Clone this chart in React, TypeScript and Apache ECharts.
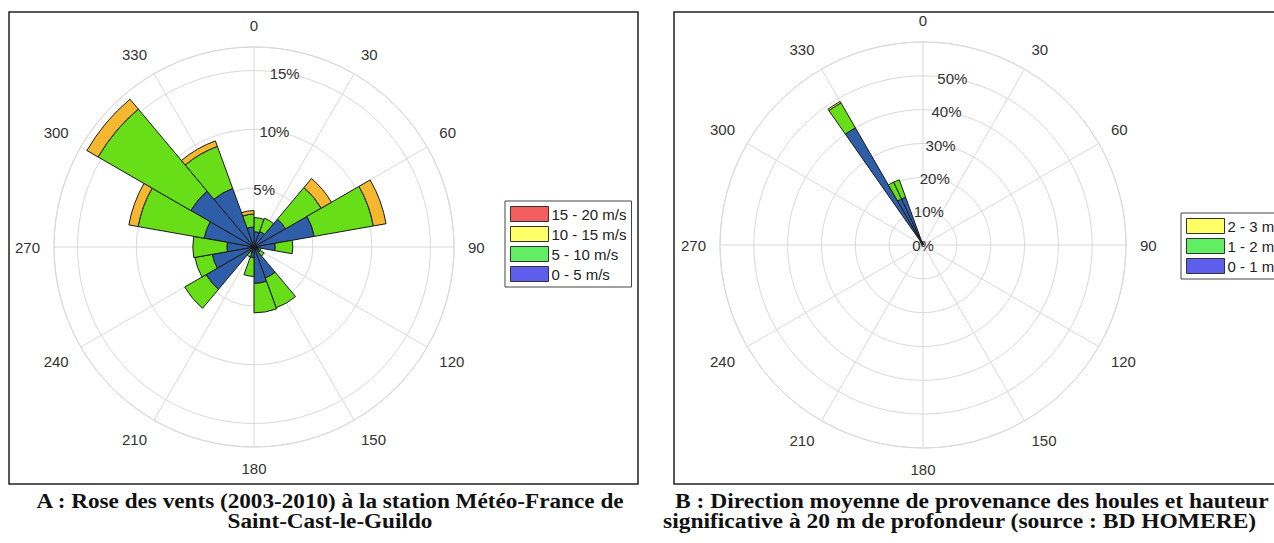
import React, { useEffect, useRef } from 'react';
import * as echarts from 'echarts';

// ---- Panel A : wind rose (20° sectors, % of time) ----
const windDirections = ['10', '30', '50', '70', '90', '110', '130', '150', '170', '190', '210', '230', '250', '270', '290', '310', '330', '350'];
const wind0to5 = [1.3, 1.4, 3.1, 5.2, 1.8, 0.4, 0.6, 2.8, 3.1, 0.9, 0.5, 4.7, 3.6, 2.3, 4.3, 6.2, 5.3, 1.7];
const wind5to10 = [1.2, 1.2, 3.5, 5.1, 1.5, 0.2, 0.4, 2.7, 2.5, 1.6, 0.4, 2.1, 1.5, 2.9, 5.7, 9.1, 3.8, 1.1];
const wind10to15 = [0, 0, 1.0, 1.1, 0, 0, 0, 0, 0, 0, 0, 0, 0, 0, 0.8, 1.1, 0.5, 0.3];
const wind15to20 = [0, 0, 0, 0, 0, 0, 0, 0, 0, 0, 0, 0, 0, 0, 0, 0, 0, 0];
const windNames = ['0 - 5 m/s', '5 - 10 m/s', '10 - 15 m/s', '15 - 20 m/s'];
const windRingMax = 17;
const windRingStep = 5;

// ---- Panel B : wave direction (5° sectors, % of time); only non-empty sectors listed ----
const waveSectorStart = [300, 305, 310, 315, 320, 325, 330, 335, 340, 345, 350, 355, 0, 5, 10, 15];
const wave0to1 = [0.5, 0.6, 0.8, 1.0, 1.4, 40, 15, 15, 1.2, 1.0, 0.8, 0.7, 0.6, 0.5, 0.4, 0.3];
const wave1to2 = [0, 0, 0, 0, 0, 8.5, 5.5, 5.5, 0, 0, 0, 0, 0, 0, 0, 0];
const wave2to3 = [0, 0, 0, 0, 0, 0.5, 0, 0, 0, 0, 0, 0, 0, 0, 0, 0];
const waveSectorWidth = 5;
const waveNames = ['0 - 1 m', '1 - 2 m', '2 - 3 m'];
const waveRingMax = 60;
const waveRingStep = 10;

const captionA = ['A : Rose des vents (2003-2010) à la station Météo-France de', 'Saint-Cast-le-Guildo'];
const captionB = ['B : Direction moyenne de provenance des houles et hauteur', 'significative à 20 m de profondeur (source : BD HOMERE)'];

const SANS = '"Liberation Sans", Arial, sans-serif';
const SERIF = '"Liberation Serif", "Times New Roman", serif';
const GRID = '#d9d9d9';
const EDGE = '#1a1a1a';

const BAR_BLUE = '#2f5ea8';
const BAR_GREEN = '#68de18';
const BAR_ORANGE = '#f5b630';
const BAR_RED = '#e84a4a';

const toData = (arr: number[]) => arr.map((v) => (v === 0 ? '-' : v));

// full list of 5° sector categories, and values placed on them
const waveCategories: string[] = Array.from({ length: 360 / waveSectorWidth }, (_, i) => String(i * waveSectorWidth));
const spreadWave = (vals: number[]) =>
  waveCategories.map((c) => {
    const k = waveSectorStart.indexOf(Number(c));
    return k >= 0 ? vals[k] : 0;
  });

function gridPolarAxes(polarIndex: number, max: number, step: number) {
  return {
    angle: {
      polarIndex,
      type: 'value',
      min: 0,
      max: 360,
      interval: 30,
      startAngle: 90,
      clockwise: true,
      axisLine: { show: true, lineStyle: { color: GRID, width: 1 } },
      axisTick: { show: false },
      axisLabel: {
        show: true,
        margin: 14,
        fontSize: 15,
        color: '#333',
        fontFamily: SANS,
        formatter: (v: number) => (v >= 360 ? '' : String(v)),
      },
      splitLine: { show: true, lineStyle: { color: GRID, width: 1 } },
      z: 0,
    },
    radius: {
      polarIndex,
      type: 'value',
      min: 0,
      max,
      interval: step,
      axisLine: { show: false },
      axisTick: { show: false },
      axisLabel: { show: false },
      splitLine: { show: true, lineStyle: { color: GRID, width: 1 } },
      z: 0,
    },
  };
}

function labelPolarAxes(polarIndex: number, max: number, step: number, hideZero: boolean) {
  return {
    angle: {
      polarIndex,
      type: 'value',
      min: 0,
      max: 360,
      startAngle: 80,
      show: false,
    },
    radius: {
      polarIndex,
      type: 'value',
      min: 0,
      max,
      interval: step,
      axisLine: { show: false },
      axisTick: { show: false },
      splitLine: { show: false },
      axisLabel: {
        show: true,
        margin: 0,
        align: 'center',
        verticalAlign: 'middle',
        fontSize: 15,
        color: '#333',
        fontFamily: SANS,
        formatter: (v: number) => ((hideZero && v === 0) || v >= max ? '' : v + '%'),
      },
      z: 5,
    },
  };
}

function barPolarAxes(polarIndex: number, cats: string[], startAngle: number, max: number) {
  return {
    angle: {
      polarIndex,
      type: 'category',
      data: cats,
      startAngle,
      clockwise: true,
      boundaryGap: true,
      axisLine: { show: false },
      axisTick: { show: false },
      axisLabel: { show: false },
      splitLine: { show: false },
    },
    radius: {
      polarIndex,
      type: 'value',
      min: 0,
      max,
      show: false,
      axisLine: { show: false },
      axisTick: { show: false },
      axisLabel: { show: false },
      splitLine: { show: false },
    },
  };
}

function barSeries(name: string, data: number[], color: string, polarIndex: number, stack: string) {
  return {
    name,
    type: 'bar',
    coordinateSystem: 'polar',
    polarIndex,
    stack,
    data: toData(data),
    barCategoryGap: '0%',
    itemStyle: { color, borderColor: EDGE, borderWidth: 1 },
    emphasis: { disabled: true },
    z: 3,
  };
}

function caption(text: string, x: number, y: number, align: string, sx: number) {
  return {
    type: 'text',
    x,
    y,
    scaleX: sx,
    style: {
      text,
      font: 'bold 20px ' + SERIF,
      fill: '#111',
      textAlign: align,
      textVerticalAlign: 'middle',
    },
  };
}

export default function App() {
  const ref = useRef<HTMLDivElement>(null);

  useEffect(() => {
    document.body.style.margin = '0';
    if (!ref.current) return;
    const chart = echarts.init(ref.current, undefined, { renderer: 'svg' });

    const LC: [number, number] = [254, 247];
    const RC: [number, number] = [923, 245];

    const a0 = barPolarAxes(0, windDirections, 90, windRingMax);
    const a1 = gridPolarAxes(1, windRingMax, windRingStep);
    const a2 = labelPolarAxes(2, windRingMax, windRingStep, true);
    const b0 = barPolarAxes(3, waveCategories, 90, waveRingMax);
    const b1 = gridPolarAxes(4, waveRingMax, waveRingStep);
    const b2 = labelPolarAxes(5, waveRingMax, waveRingStep, false);

    const legendBase = {
      orient: 'vertical',
      itemWidth: 38,
      itemHeight: 15,
      itemGap: 4,
      padding: [5, 5, 5, 5],
      borderColor: '#444',
      borderWidth: 1,
      backgroundColor: '#fff',
      selectedMode: false,
      icon: 'rect',
      itemStyle: { borderColor: '#333', borderWidth: 1 },
      textStyle: { fontSize: 15, color: '#222', fontFamily: SANS, padding: [0, 0, 0, -2] },
    };

    const option = {
      animation: false,
      backgroundColor: '#ffffff',
      polar: [
        { center: LC, radius: 200 },
        { center: LC, radius: 200 },
        { center: LC, radius: 200 },
        { center: RC, radius: 203 },
        { center: RC, radius: 203 },
        { center: RC, radius: 203 },
      ],
      angleAxis: [a0.angle, a1.angle, a2.angle, b0.angle, b1.angle, b2.angle],
      radiusAxis: [a0.radius, a1.radius, a2.radius, b0.radius, b1.radius, b2.radius],
      legend: [
        {
          ...legendBase,
          left: 505,
          top: 201,
          data: [
            { name: windNames[3], itemStyle: { color: '#f25e5e' } },
            { name: windNames[2], itemStyle: { color: '#ffff66' } },
            { name: windNames[1], itemStyle: { color: '#62ee62' } },
            { name: windNames[0], itemStyle: { color: '#5e5eee' } },
          ],
        },
        {
          ...legendBase,
          left: 1181,
          top: 213,
          data: [
            { name: waveNames[2], itemStyle: { color: '#ffff66' } },
            { name: waveNames[1], itemStyle: { color: '#62ee62' } },
            { name: waveNames[0], itemStyle: { color: '#5e5eee' } },
          ],
        },
      ],
      series: [
        barSeries(windNames[0], wind0to5, BAR_BLUE, 0, 'wind'),
        barSeries(windNames[1], wind5to10, BAR_GREEN, 0, 'wind'),
        barSeries(windNames[2], wind10to15, BAR_ORANGE, 0, 'wind'),
        barSeries(windNames[3], wind15to20, BAR_RED, 0, 'wind'),
        barSeries(waveNames[0], spreadWave(wave0to1), BAR_BLUE, 3, 'wave'),
        barSeries(waveNames[1], spreadWave(wave1to2), BAR_GREEN, 3, 'wave'),
        barSeries(waveNames[2], spreadWave(wave2to3), '#f5e34a', 3, 'wave'),
      ],
      graphic: [
        {
          type: 'rect',
          z: -10,
          shape: { x: 9, y: 12, width: 629, height: 472 },
          style: { fill: 'none', stroke: '#222', lineWidth: 1.5 },
          silent: true,
        },
        {
          type: 'rect',
          z: -10,
          shape: { x: 674, y: 12, width: 700, height: 472 },
          style: { fill: 'none', stroke: '#222', lineWidth: 1.5 },
          silent: true,
        },
        caption(captionA[0], 330, 502, 'center', 1.16),
        caption(captionA[1], 330, 522, 'center', 1.16),
        caption(captionB[0], 675, 502, 'left', 1.175),
        caption(captionB[1], 663, 522, 'left', 1.175),
      ],
    };

    chart.setOption(option as any);
    return () => {
      chart.dispose();
    };
  }, []);

  return <div ref={ref} style={{ width: 1274, height: 543 }} />;
}
